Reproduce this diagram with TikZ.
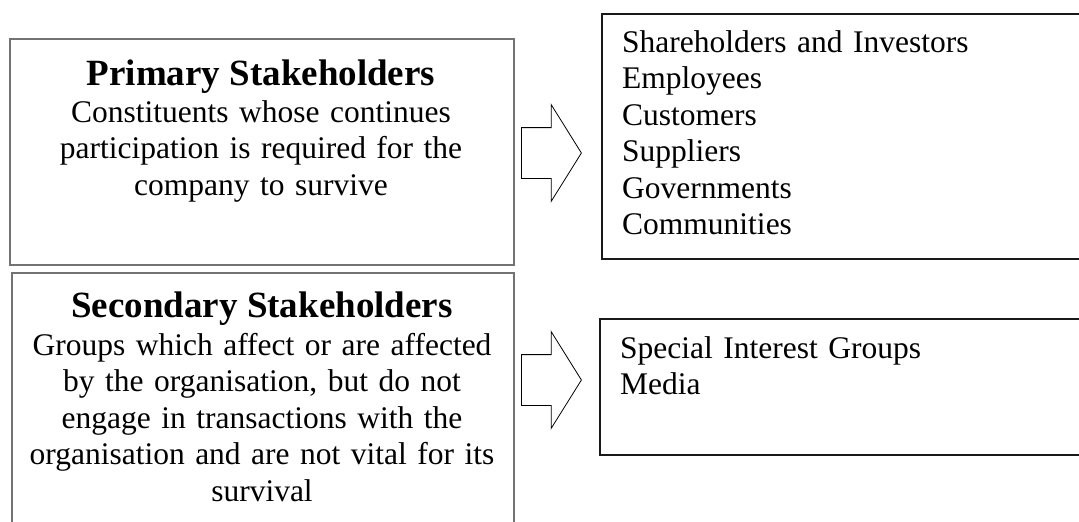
\documentclass[tikz,border=0pt]{standalone}
\usepackage{fontspec}
\setmainfont{Liberation Serif}
\usetikzlibrary{shapes.arrows,positioning}

\tikzset{
  groupbox/.style={draw=black!55, line width=1.5pt, anchor=north west},
  listbox/.style={draw=black!90, line width=2pt, anchor=north west},
  head/.style={font=\fontsize{37}{44}\selectfont\bfseries, inner sep=0pt, anchor=base},
  body/.style={font=\fontsize{31.5}{36.6}\selectfont, inner sep=0pt, anchor=base,
    text width=500pt, align=center},
  items/.style={font=\fontsize{31.5}{36.6}\selectfont, inner sep=0pt, anchor=base west,
    text width=440pt, align=left},
  blockarrow/.style={single arrow, draw, line width=0.8pt, anchor=tail,
    minimum height=60pt, inner xsep=0pt, inner ysep=25pt,
    single arrow head extend=23pt, single arrow tip angle=116}
}

\begin{document}
\begin{tikzpicture}[x=1pt,y=-1pt]
  \useasboundingbox (0,0) rectangle (1079,522);
  \clip (0,0) rectangle (1079,522);

  % left column: the two kinds of stakeholders
  \node[groupbox, minimum width=504pt, minimum height=226pt] (prim) at (9,38) {};
  \node[groupbox, minimum width=502pt, minimum height=270pt] (sec) at (11,272) {};
  \node[head] (primhead) at (261,85) {Primary Stakeholders};
  \node[body] (primtext) at (261,122) {Constituents whose continues\\
    participation is required for the\\company to survive};
  \node[head] (sechead) at (262,317) {Secondary Stakeholders};
  \node[body] (sectext) at (262,355) {Groups which affect or are affected\\
    by the organisation, but do not\\engage in transactions with the\\
    organisation and are not vital for its\\survival};

  % block arrows
  \node[blockarrow] (primarrow) at (521,153) {};
  \node[blockarrow] (secarrow) at (521,380) {};

  % right column: who belongs to each group
  \node[listbox, minimum width=500pt, minimum height=245pt] (prlist) at (601,13) {};
  \node[listbox, minimum width=500pt, minimum height=136pt] (selist) at (599,318) {};
  \node[items] (primitems) at (622,52) {Shareholders and Investors\\Employees\\
    Customers\\Suppliers\\Governments\\Communities};
  \node[items] (secitems) at (620,358) {Special Interest Groups\\Media};
\end{tikzpicture}
\end{document}
